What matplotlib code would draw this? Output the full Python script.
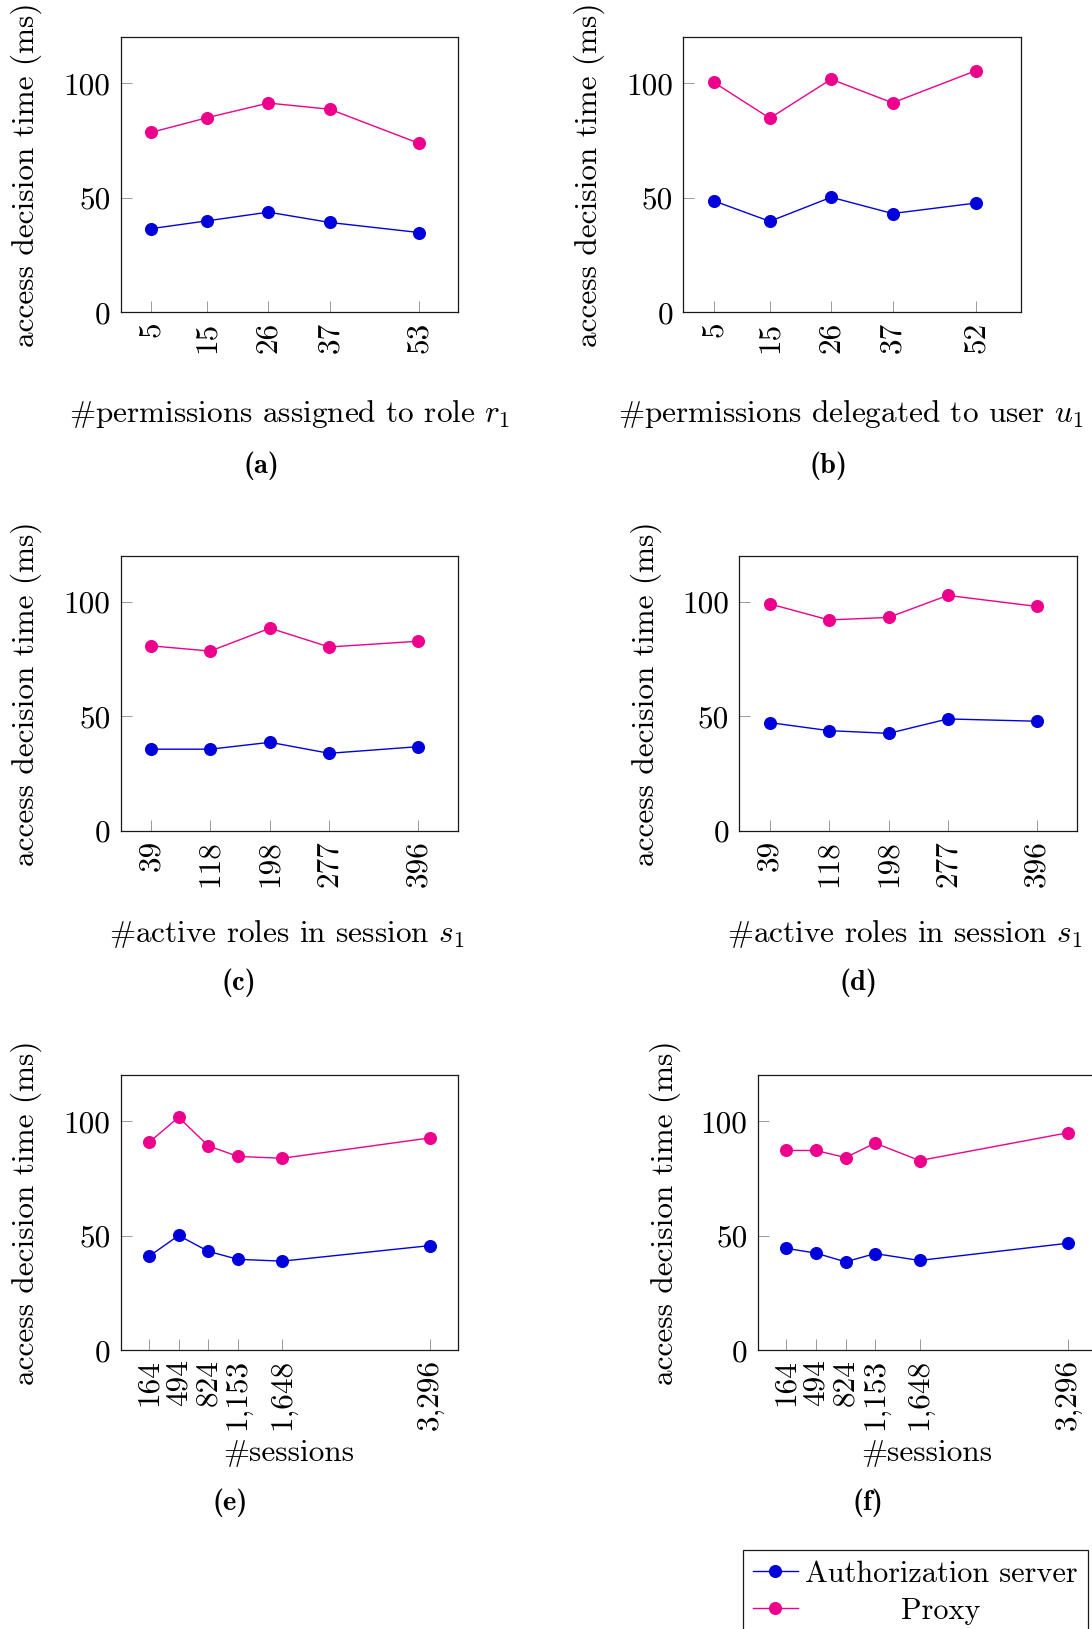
import matplotlib
matplotlib.use('Agg')
import matplotlib.pyplot as plt

# --- data ---
perm_role = [5, 15, 26, 37, 53]
auth_a = [36.5, 39.9, 43.7, 39.2, 34.8]
proxy_a = [78.5, 84.9, 91.3, 88.6, 73.7]

perm_user = [5, 15, 26, 37, 52]
auth_b = [48.6, 39.7, 50.2, 43.1, 47.7]
proxy_b = [100.3, 84.7, 101.7, 91.4, 105.5]

active_roles = [39, 118, 198, 277, 396]
auth_c = [35.7, 35.7, 38.7, 33.9, 36.8]
proxy_c = [80.8, 78.5, 88.5, 80.3, 82.8]
auth_d = [47.3, 43.8, 42.6, 48.9, 47.9]
proxy_d = [99.1, 92.1, 93.2, 102.8, 98.0]

sessions = [164, 494, 824, 1153, 1648, 3296]
session_labels = ['164', '494', '824', '1,153', '1,648', '3,296']
auth_e = [41.0, 50.1, 43.2, 39.7, 38.9, 45.7]
proxy_e = [90.7, 101.7, 89.2, 84.6, 83.8, 92.7]
auth_f = [44.5, 42.4, 38.6, 42.2, 39.2, 46.7]
proxy_f = [87.2, 87.2, 84.1, 90.4, 82.8, 94.9]

series_names = ['Authorization server', 'Proxy']
ytick_vals = [0, 50, 100]

BLUE = '#0000dd'
PINK = '#ec008c'

plt.rcParams['font.family'] = 'cmr10'
plt.rcParams['mathtext.fontset'] = 'cm'
plt.rcParams['axes.unicode_minus'] = False
plt.rcParams['axes.formatter.use_mathtext'] = True

W, H = 1092, 1629
fig = plt.figure(figsize=(W / 100, H / 100), dpi=100)
FS = 22.5


def px(x, y):
    return x / W, 1 - y / H


def make_axes(left, top, width=337.6, height=275.0):
    return fig.add_axes([left / W, 1 - (top + height) / H, width / W, height / H])


panels = [
    # x, auth, proxy, labels, xlabel, xlim, (left, top), xlabel pos, caption pos, ylabel x
    (perm_role, auth_a, proxy_a, None, r'#permissions assigned to role $r_1$', (-0.45, 60),
     (120.7, 37.3), (289, 414), (261, 466), 26, '(a)'),
    (perm_user, auth_b, proxy_b, None, r'#permissions delegated to user $u_1$', (-0.5, 60),
     (683.3, 37.3), (851, 414), (829, 466), 589, '(b)'),
    (active_roles, auth_c, proxy_c, None, r'#active roles in session $s_1$', (-1.7, 449.7),
     (120.7, 556), (287, 934), (239, 983), 26, '(c)'),
    (active_roles, auth_d, proxy_d, None, r'#active roles in session $s_1$', (-1.7, 449.7),
     (739.3, 556), (905, 934), (859, 983), 646, '(d)'),
    (sessions, auth_e, proxy_e, session_labels, '#sessions', (-151, 3608),
     (120.7, 1075.3), (289, 1453), (230, 1503), 26, '(e)'),
    (sessions, auth_f, proxy_f, session_labels, '#sessions', (-151, 3608),
     (758, 1075.3), (927, 1453), (868, 1503), 665, '(f)'),
]

handles = None
for xs, auth, proxy, labels, xlabel, xlim, (left, top), xl_pos, cap_pos, yl_x, cap in panels:
    ax = make_axes(left, top)
    l1, = ax.plot(xs, auth, color=BLUE, lw=1.0, marker='o', ms=8.4)
    l2, = ax.plot(xs, proxy, color=PINK, lw=1.0, marker='o', ms=8.4)
    handles = [l1, l2]
    ax.set_xlim(*xlim)
    ax.set_ylim(0, 120)
    ax.set_xticks(xs)
    ax.set_xticklabels(labels if labels else [str(v) for v in xs], rotation=90)
    ax.set_yticks(ytick_vals)
    ax.set_yticklabels([str(v) for v in ytick_vals])
    ax.tick_params(direction='in', length=8, width=0.7, color='0.6', labelsize=FS)
    ax.tick_params(axis='x', pad=6.5)
    ax.tick_params(axis='y', pad=7.5)
    for sp in ax.spines.values():
        sp.set_linewidth(0.9)
        sp.set_color('0.1')
    fig.text(*px(*xl_pos), xlabel, fontsize=FS, ha='center', va='center')
    fig.text(*px(yl_x, top + 137.5), 'access decision time (ms)', fontsize=FS,
             rotation=90, ha='center', va='center')
    fig.text(*px(*cap_pos), cap, fontsize=20.5, family='cmb10', ha='center', va='center')

leg = fig.legend(handles, series_names, loc='upper left', bbox_to_anchor=px(742.7, 1550),
                 borderaxespad=0, fontsize=21.8, frameon=True, fancybox=False,
                 edgecolor='0.1', framealpha=1, handlelength=1.47, handletextpad=0.24,
                 borderpad=0.34, labelspacing=0.32, numpoints=1)
leg.get_frame().set_linewidth(0.9)

# centre the shorter entry under the longer one, like the original
fig.canvas.draw()
r = fig.canvas.get_renderer()
w0 = leg.texts[0].get_window_extent(r).width
w1 = leg.texts[1].get_window_extent(r).width
leg.texts[1].set_x((w0 - w1) / 2)

fig.savefig('out.png', dpi=100)
